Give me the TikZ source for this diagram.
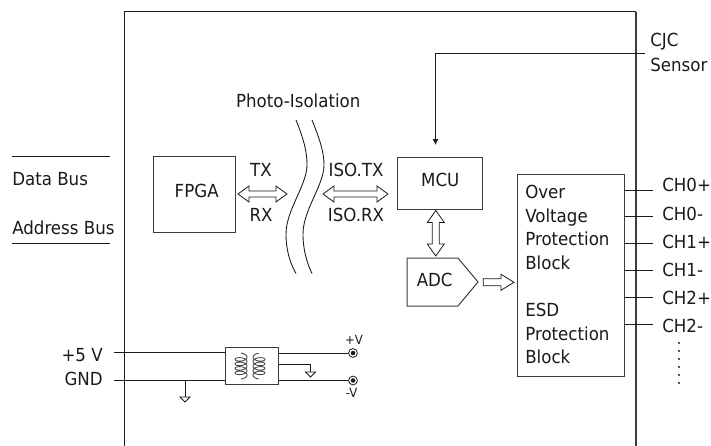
\documentclass[tikz,border=0pt]{standalone}
\usepackage{fontspec}
\setmainfont[FakeStretch=0.925]{DejaVu Sans}
\usetikzlibrary{arrows.meta,calc}
\definecolor{ink}{HTML}{1A1A1A}
\definecolor{soft}{HTML}{3C3C3C}
\tikzset{
  px/.style={x=0.75pt,y=-0.75pt},
  wire/.style={draw=ink,line width=0.65pt},
  heavy/.style={draw=soft,line width=1.05pt},
  blockbox/.style={draw=soft,line width=0.75pt,inner sep=0pt,fill=white},
  lbl/.style={inner sep=0pt,anchor=base,font=\fontsize{13.5}{15}\selectfont,text=ink},
  lblw/.style={lbl,anchor=base west},
  tiny/.style={inner sep=0pt,anchor=base,font=\fontsize{9.5}{11}\selectfont,text=ink},
  fat/.style={draw=ink,line width=0.6pt,fill=white},
  term/.style={circle,draw=ink,line width=0.6pt,inner sep=0pt,minimum size=6.6pt,path picture={\fill[ink] (path picture bounding box.center) circle (1.7pt);}},
  gndsym/.pic={\draw[wire] (-5,0) -- (5,0) -- (0,5) -- cycle;},
}
\newcommand{\dblh}[2]{\draw[fat] (#1) -- ++(11,-8) -- ++(0,5) -- ($(#2)+(-11,-3)$) -- ++(0,-5) -- (#2) -- ++(-11,8) -- ++(0,-5) -- ($(#1)+(11,3)$) -- ++(0,5) -- cycle;}
\begin{document}
\begin{tikzpicture}[px]
\useasboundingbox (0,0) rectangle (711,446);
% frame
\coordinate (fbl) at (124.5,446); \coordinate (ftl) at (124.5,11.5);
\coordinate (ftr) at (636,11.5); \coordinate (fbr) at (636,446);
\draw[wire] (fbl) -- (ftl) -- (ftr);
\draw[heavy] (ftr) -- (fbr);
% bus
\coordinate (d1) at (12,156.5); \coordinate (d2) at (110,156.5);
\coordinate (a1) at (12,243.5); \coordinate (a2) at (110,243.5);
\draw[wire] (d1) -- (d2); \draw[wire] (a1) -- (a2);
\node[lblw] (dbus) at (12,185.7) {Data Bus};
\node[lblw] (abus) at (12,234) {Address Bus};
% blocks
\node[blockbox,minimum width=61.9pt,minimum height=57pt] (fpga) at (194.3,194) {};
\node[lbl] (fpgat) at (196.7,197.7) {FPGA};
\node[blockbox,minimum width=64.1pt,minimum height=39pt] (mcu) at (440.2,183) {};
\node[lbl] (mcut) at (440.3,186.7) {MCU};
\node[blockbox,minimum width=79.9pt,minimum height=152.2pt] (prot) at (571.2,275.5) {};
% text in protection
\node[lblw] (t1) at (525,198) {Over};
\node[lblw] (t2) at (525,222) {Voltage};
\node[lblw] (t3) at (525,245.7) {Protection};
\node[lblw] (t4) at (525,269) {Block};
\node[lblw] (t5) at (525,316) {ESD};
\node[lblw] (t6) at (525,340) {Protection};
\node[lblw] (t7) at (525,363) {Block};
% ADC
\draw[draw=soft,line width=0.75pt] (407,258) -- (458,258) -- (478,282) coordinate (adctip) -- (458,306) -- (407,306) -- cycle;
\node[lbl] (adct) at (434.7,286) {ADC};
% isolation
\node[lbl] (photo) at (298.3,107.3) {Photo-Isolation};
\coordinate (c1a) at (296,120); \coordinate (c1b) at (296,273.5);
\coordinate (c2a) at (312,120); \coordinate (c2b) at (312,273.5);
\draw[wire] (c1a) .. controls (304,140) and (307,152) .. (307,165) .. controls (307,185) and (286,210) .. (286,234) .. controls (286,250) and (290,263) .. (c1b);
\draw[wire] (c2a) .. controls (320,140) and (324,152) .. (324,165) .. controls (324,185) and (303,210) .. (303,234) .. controls (303,250) and (307,263) .. (c2b);
% arrows
\coordinate (ar1a) at (238,194); \coordinate (ar1b) at (287,194);
\dblh{ar1a}{ar1b}
\coordinate (ar2a) at (323,194); \coordinate (ar2b) at (388,194);
\dblh{ar2a}{ar2b}
\coordinate (ar3a) at (435.8,210.5); \coordinate (ar3b) at (435.8,256);
\draw[fat] (ar3a) -- ++(8.5,12) -- ++(-5,0) -- ($(ar3b)+(3.5,-12)$) -- ++(5,0) -- (ar3b) -- ++(-8.5,-12) -- ++(5,0) -- ($(ar3a)+(-3.5,12)$) -- ++(-5,0) -- cycle;
\coordinate (ar4a) at (483.3,282.3); \coordinate (ar4b) at (514,282.3);
\draw[fat] (ar4a) ++(0,-3.5) -- ($(ar4b)+(-13,-3.5)$) -- ++(0,-4.5) -- (ar4b) -- ++(-13,8) -- ++(0,-4.5) -- ($(ar4a)+(0,3.5)$) -- cycle;
\node[lbl] (tx) at (261,176) {TX};
\node[lbl] (rx) at (261,221) {RX};
\node[lbl] (isotx) at (356,176) {ISO.TX};
\node[lbl] (isorx) at (356,221) {ISO.RX};
% CJC
\coordinate (cjcs) at (644.5,53);
\node[lblw] (cjc1) at (650,46.7) {CJC};
\node[lblw] (cjc2) at (650,71) {Sensor};
\draw[wire,-{Latex[length=4.5pt,width=4.5pt]}] (cjcs) -- (435.5,53) -- (435.5,145);
% channels
\foreach \yy [count=\i] in {190,216.5,243.5,270,297,324}{
  \coordinate (cs\i) at (prot.east|-0,\yy);
  \coordinate (ce\i) at (652.5,\yy);
  \draw[wire] (cs\i) -- (ce\i);
}
\node[lblw] (ch1) at (662,191.7) {CH0+};
\node[lblw] (ch2) at (662,220.7) {CH0-};
\node[lblw] (ch3) at (662,248) {CH1+};
\node[lblw] (ch4) at (662,276) {CH1-};
\node[lblw] (ch5) at (662,304) {CH2+};
\node[lblw] (ch6) at (662,332) {CH2-};
\foreach \yy in {343,351,359,367,375,383} \fill[ink] (679,\yy) circle (0.8pt);
% power
\node[lbl,anchor=base east] (v5) at (103,361.7) {+5 V};
\node[lbl,anchor=base east] (gnd) at (103,385) {GND};
\node[blockbox,minimum width=39.75pt,minimum height=27.75pt] (xf) at (251.5,365.5) {};
\node[term] (tp) at (353,353) {};
\node[term] (tm) at (353,380.5) {};
\node[tiny] (vp) at (354,344) {+V};
\node[tiny] (vm) at (351.7,397) {-V};
\coordinate (in1) at (114,352); \coordinate (in2) at (114,380.5);
\draw[wire] (in1) -- (xf.west|-in1);
\draw[wire] (in2) -- (xf.west|-in2);
\draw[wire] (xf.east|-tp) -- (tp);
\draw[wire] (xf.east|-tm) -- (tm);
\draw[draw=soft,line width=0.6pt,smooth,samples=80] plot[domain=0:1620,variable=\t] ({241+6*sin(\t)},{356+0.0125*\t+2.8*cos(\t+180)});
\draw[draw=soft,line width=0.6pt,smooth,samples=80] plot[domain=0:1620,variable=\t] ({259-6*sin(\t)},{356+0.0125*\t+2.8*cos(\t+180)});
\coordinate (g1) at (310.5,372); \coordinate (g2) at (185,397);
\draw[wire] (xf.east|-0,364.5) -| (g1);
\draw[wire] (g2|-in2) -- (g2);
\pic at (g1) {gndsym};
\pic at (g2) {gndsym};
\end{tikzpicture}
\end{document}
